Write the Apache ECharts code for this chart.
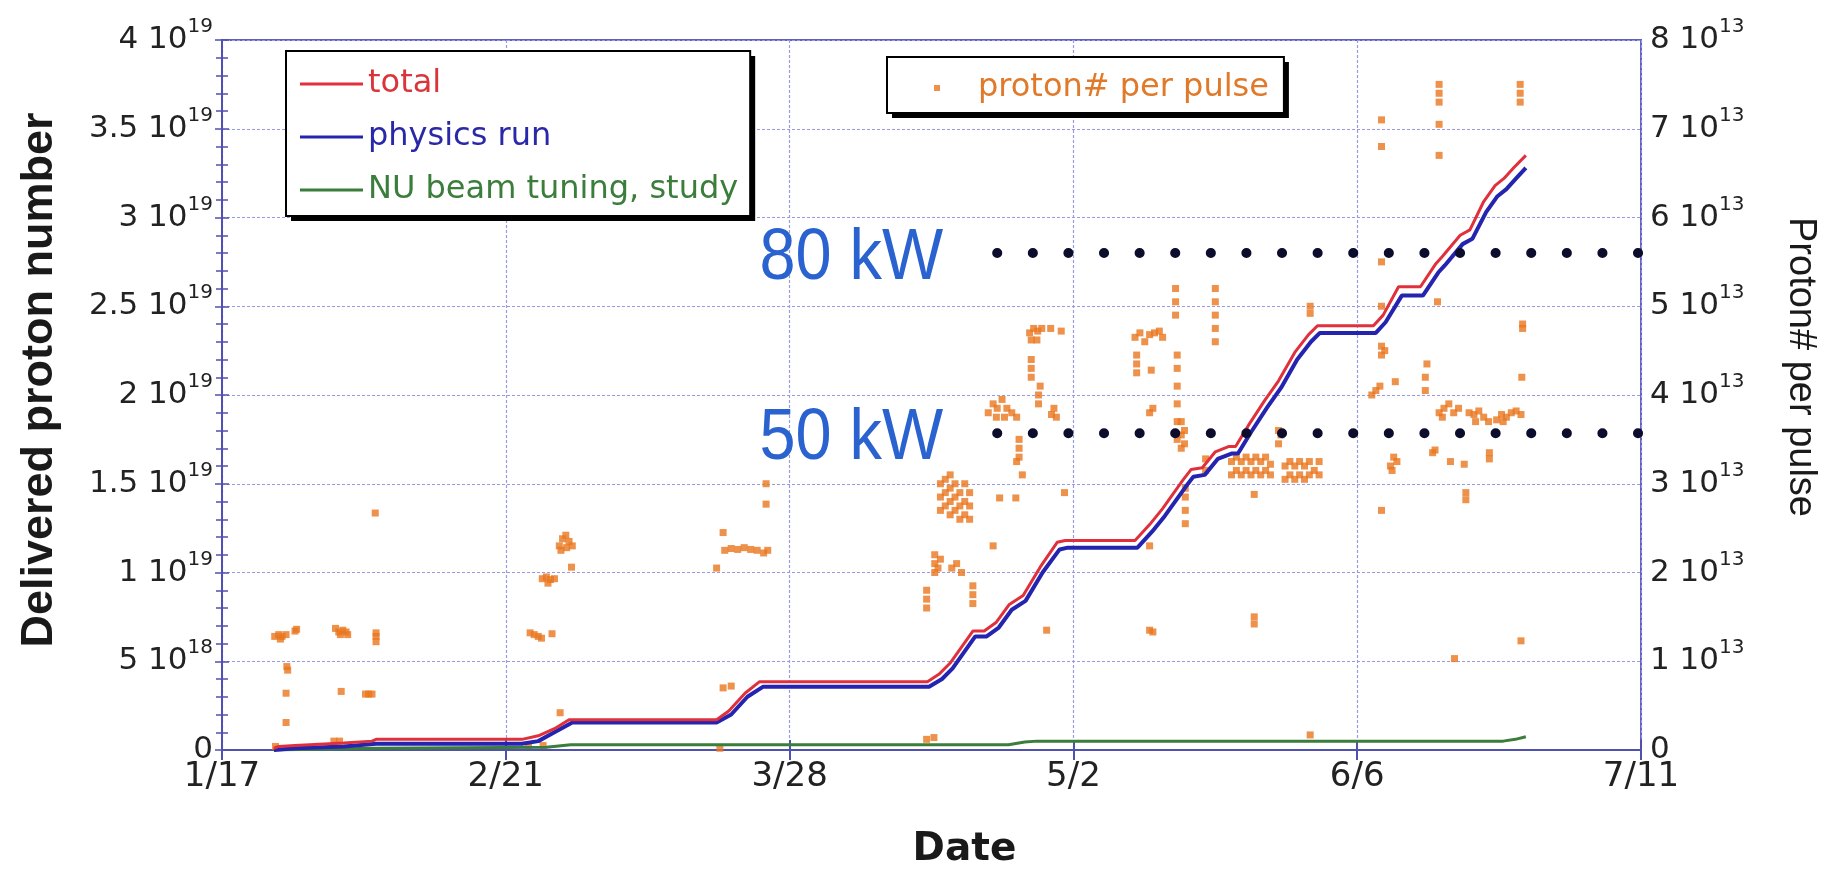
<!DOCTYPE html>
<html><head><meta charset="utf-8">
<script src="https://cdn.jsdelivr.net/npm/echarts@6/dist/echarts.min.js"></script>
<style>html,body{margin:0;padding:0;background:#fff;}#c{width:1841px;height:874px;}</style>
</head><body><div id="c"></div>
<script>
// x: days since 1/17 ; left values in units of 10^19 ; right values in units of 10^13
const xTickLabels = ['1/17', '2/21', '3/28', '5/2', '6/6', '7/11'];
const leftTickLabels = [['0', ''], ['5', '18'], ['1', '19'], ['1.5', '19'], ['2', '19'], ['2.5', '19'], ['3', '19'], ['3.5', '19'], ['4', '19']];
const rightTickLabels = [['0', ''], ['1', '13'], ['2', '13'], ['3', '13'], ['4', '13'], ['5', '13'], ['6', '13'], ['7', '13'], ['8', '13']];

const totalSeries = [[6.4,0.01],[7,0.02],[9,0.025],[15,0.04],[18.5,0.05],[19,0.06],[37,0.06],[39,0.08],[41,0.12],[42.8,0.17],[61,0.17],[62.5,0.22],[64.5,0.32],[66.3,0.385],[87,0.385],[88.5,0.43],[89.8,0.49],[92.6,0.67],[94,0.67],[95.5,0.72],[97.1,0.82],[98.8,0.87],[100.9,1.03],[103,1.17],[104,1.18],[112.6,1.18],[114.4,1.27],[116,1.36],[118.5,1.52],[119.5,1.58],[120.9,1.59],[122.5,1.68],[124.2,1.71],[125,1.71],[126.6,1.83],[128.6,1.97],[130.3,2.08],[132.3,2.24],[134,2.34],[135.1,2.39],[142,2.39],[143.2,2.45],[145.1,2.61],[147.8,2.61],[149.7,2.74],[150.5,2.78],[152.7,2.90],[153.9,2.93],[155.6,3.09],[157,3.18],[158.1,3.22],[159.3,3.28],[160.8,3.35]];
const physicsSeries = [[6.4,0.0],[9,0.01],[15,0.02],[19,0.035],[37,0.035],[39,0.05],[41,0.10],[43.2,0.155],[61,0.155],[62.8,0.2],[64.8,0.3],[66.7,0.356],[87.2,0.356],[88.8,0.40],[90.1,0.46],[92.9,0.64],[94.3,0.64],[95.8,0.69],[97.4,0.79],[99.1,0.84],[101.2,1.0],[103.3,1.13],[104.3,1.14],[112.9,1.14],[114.7,1.23],[116.3,1.32],[118.8,1.48],[119.8,1.54],[121.2,1.55],[122.8,1.64],[124.5,1.67],[125.3,1.67],[126.9,1.79],[128.9,1.93],[130.6,2.04],[132.6,2.20],[134.3,2.30],[135.4,2.35],[142.3,2.35],[143.5,2.41],[145.5,2.56],[148.1,2.56],[150,2.69],[150.8,2.73],[153,2.85],[154.2,2.88],[155.9,3.03],[157.3,3.12],[158.4,3.16],[159.6,3.22],[160.8,3.28]];
const tuningSeries = [[6.4,0.0],[19,0.01],[40,0.015],[43,0.03],[97,0.03],[99,0.045],[100.5,0.05],[158,0.05],[159.5,0.06],[160.8,0.075]];

const protonPerPulse = [
 [6.5,1.28],[7,1.30],[7.4,1.28],[7.9,1.30],[7.2,1.25],[9.0,1.34],[9.2,1.36],[8.0,0.94],[8.1,0.90],[7.9,0.64],[7.9,0.31],
 [14.0,1.37],[14.4,1.33],[14.9,1.35],[15.3,1.33],[14.6,1.30],[15.5,1.30],[14.7,0.66],[17.7,0.63],[18.1,0.63],[18.5,0.63],
 [19.0,1.22],[19.0,1.28],[19.0,1.32],[18.9,2.67],[13.8,0.1],[14.5,0.1],[6.6,0.04],
 [38.0,1.32],[38.5,1.30],[39.0,1.28],[39.4,1.26],[40.7,1.31],[39.5,1.93],[40.0,1.95],[40.5,1.92],[41.0,1.93],[40.2,1.88],
 [41.6,2.30],[42.0,2.38],[42.4,2.42],[42.8,2.35],[43.2,2.30],[41.8,2.25],[42.5,2.28],[43.1,2.06],[41.7,0.42],[37.8,0.05],[39.6,0.05],
 [61.0,2.05],[61.8,2.45],[62,2.25],[62.8,2.27],[63.6,2.26],[64.4,2.28],[65.2,2.26],[66,2.25],[66.8,2.22],[67.3,2.25],[67.1,2.77],[67.1,3.0],
 [61.8,0.7],[62.8,0.72],[61.4,0.02],
 [86.9,1.6],[86.9,1.7],[86.9,1.8],[86.9,0.12],[87.8,0.14],[87.9,2.0],[87.9,2.1],[87.9,2.2],[88.3,2.05],[88.6,2.15],
 [88.6,2.7],[88.6,2.85],[88.6,3.0],[89.2,2.75],[89.2,2.9],[89.2,3.05],[89.8,2.65],[89.8,2.8],[89.8,2.95],[89.8,3.1],[90.4,2.7],[90.4,2.85],[90.4,3.0],
 [91.0,2.6],[91.0,2.75],[91.0,2.9],[91.6,2.65],[91.6,2.8],[91.6,3.0],[92.2,2.6],[92.2,2.75],[92.2,2.9],
 [90,2.05],[90.6,2.1],[91.2,2.0],[92.6,1.65],[92.6,1.75],[92.6,1.85],[95.1,2.3],[95.9,2.84],[97.9,2.84],
 [94.5,3.8],[95.1,3.9],[95.6,3.85],[96.2,3.95],[96.8,3.85],[97.4,3.8],[98,3.75],[95.5,3.75],[96.5,3.75],
 [98.3,3.3],[98.3,3.4],[98.3,3.5],[98.0,3.25],[98.7,3.1],
 [99.6,4.7],[100.1,4.75],[100.6,4.72],[101.1,4.75],[102.2,4.75],[103.5,4.72],[99.8,4.62],[100.5,4.62],
 [99.8,4.2],[99.8,4.3],[99.8,4.4],[100.7,3.9],[100.7,4.0],[100.9,4.1],[102.3,3.78],[102.6,3.85],[102.9,3.75],[103.9,2.9],[101.7,1.35],
 [114.4,2.3],[114.4,1.35],[114.8,1.33],[112.6,4.65],[113.2,4.7],[113.8,4.6],[114.4,4.68],[115,4.7],[115.6,4.72],[116,4.65],
 [112.8,4.25],[112.8,4.35],[112.8,4.45],[114.6,4.28],[114.4,3.8],[114.8,3.85],
 [117.6,4.9],[117.6,5.05],[117.6,5.2],[117.8,3.5],[117.8,3.7],[117.8,3.9],[117.8,4.1],[117.8,4.3],[117.8,4.45],
 [118.3,3.4],[118.3,3.55],[118.3,3.7],[118.7,3.45],[118.7,3.6],[118.8,2.55],[118.8,2.7],[118.8,2.85],[118.8,2.95],
 [122.5,4.6],[122.5,4.75],[122.5,4.9],[122.5,5.05],[122.5,5.2],[121.3,3.15],[121.3,3.28],
 [124.5,3.1],[124.5,3.25],[125.1,3.15],[125.1,3.3],[125.7,3.1],[125.7,3.25],[126.3,3.15],[126.3,3.3],[126.9,3.1],[126.9,3.25],
 [127.5,3.15],[127.5,3.3],[128.1,3.1],[128.1,3.25],[128.7,3.15],[128.7,3.3],[129.3,3.1],[129.3,3.22],
 [127.3,2.88],[130.3,3.45],[130.3,3.6],[130.6,3.55],[127.3,1.42],[127.3,1.5],
 [131.1,3.05],[131.1,3.2],[131.7,3.1],[131.7,3.25],[132.3,3.05],[132.3,3.2],[132.9,3.1],[132.9,3.25],[133.5,3.05],[133.5,3.2],
 [134.1,3.1],[134.1,3.25],[134.7,3.15],[135.3,3.1],[135.3,3.25],[134.2,4.92],[134.2,5.0],[134.2,0.17],
 [141.8,4.0],[142.3,4.05],[142.8,4.1],[143.0,4.45],[143.0,4.55],[143.4,4.5],[144.7,4.15],[143.0,5.5],[143.0,7.1],[143.0,6.8],[143.0,5.0],[143.0,2.7],
 [144.1,3.2],[144.5,3.3],[144.9,3.25],[144.3,3.15],[148.4,4.05],[148.4,4.2],[148.6,4.35],[149.3,3.35],[149.6,3.38],
 [150.1,7.3],[150.1,7.4],[150.1,7.5],[150.1,7.05],[150.1,6.7],[149.9,5.05],
 [150.1,3.8],[150.7,3.85],[151.3,3.9],[151.9,3.8],[152.5,3.85],[150.5,3.75],[151.5,3.25],[153.2,3.22],[153.4,2.82],[153.4,2.9],
 [153.8,3.8],[154.4,3.78],[155,3.82],[155.6,3.75],[156.2,3.7],[154.6,3.7],[156.3,3.28],[156.3,3.35],
 [157.2,3.72],[157.8,3.78],[158.4,3.75],[159,3.8],[159.6,3.82],[160.2,3.78],[158,3.7],[152,1.03],
 [160.1,7.3],[160.1,7.4],[160.1,7.5],[160.4,4.75],[160.4,4.8],[160.3,4.2],[160.2,1.23]
];
const level80kW = [[95.6, 5.6], [175, 5.6]];
const level50kW = [[95.6, 3.57], [175, 3.57]];
const powerLabels = ['80 kW', '50 kW'];
const lineNames = ['total', 'physics run', 'NU beam tuning, study'];
const pulseName = 'proton# per pulse';

const AX = '#5050b0';
const LEG_FONT = 32;
const supRich = {
  m: { fontSize: 31, fontFamily: 'DejaVu Sans', color: '#222', lineHeight: 46 },
  e: { fontSize: 20, fontFamily: 'DejaVu Sans', color: '#222', lineHeight: 22, verticalAlign: 'top' }
};
function supFmt(arr, step) {
  return v => { const t = arr[Math.round(v / step)]; if (!t) return ''; return t[1] ? '{m|' + t[0] + ' 10}{e|' + t[1] + '}' : '{m|' + t[0] + '}'; };
}
const L1 = { left: 286, top: 51, pad: [15, 12, 8, 14], iw: 63, ih: 3, gap: 17, lh: 36 };
const L2 = { left: 887, top: 57, pad: [12, 15, 6, 47], iw: 6, ih: 6, lh: 38, tp: 33 };

const chart = echarts.init(document.getElementById('c'), null, { renderer: 'canvas' });
const option = {
  animation: false,
  backgroundColor: '#fff',
  grid: { left: 222, right: 200, top: 40, bottom: 120, show: true, borderColor: '#6060c0', borderWidth: 2, backgroundColor: 'transparent' },
  legend: [
    { left: L1.left, top: L1.top, orient: 'vertical', selectedMode: false, icon: 'rect', itemWidth: L1.iw, itemHeight: L1.ih, itemGap: L1.gap,
      padding: L1.pad, backgroundColor: '#fff', borderColor: '#000', borderWidth: 2, z: 8,
      textStyle: { fontFamily: 'DejaVu Sans', fontSize: LEG_FONT, lineHeight: L1.lh },
      data: [ { name: lineNames[0], textStyle: { color: '#d9353a' } },
              { name: lineNames[1], textStyle: { color: '#2828a8' } },
              { name: lineNames[2], textStyle: { color: '#3b7d3b' } } ] },
    { left: L2.left, top: L2.top, orient: 'horizontal', selectedMode: false, icon: 'rect', itemWidth: L2.iw, itemHeight: L2.ih,
      padding: L2.pad, backgroundColor: '#fff', borderColor: '#000', borderWidth: 2, z: 8,
      textStyle: { fontFamily: 'DejaVu Sans', fontSize: LEG_FONT, lineHeight: L2.lh, color: '#e07a2a', padding: [0, 0, 0, L2.tp] },
      data: [pulseName] }
  ],
  xAxis: [
    { type: 'value', min: 0, max: 175, interval: 35, position: 'bottom',
      name: 'Date', nameLocation: 'middle', nameGap: 80,
      nameTextStyle: { fontFamily: 'DejaVu Sans', fontWeight: 'bold', fontSize: 39, color: '#1a1a1a', padding: [0, 0, 0, 66] },
      axisLine: { show: true, lineStyle: { color: AX, width: 2 } },
      axisTick: { show: true, inside: true, length: 10, lineStyle: { color: AX, width: 2 } },
      axisLabel: { fontFamily: 'DejaVu Sans', fontSize: 34, color: '#222', margin: 10, showMinLabel: true, showMaxLabel: true,
                   formatter: v => xTickLabels[Math.round(v / 35)] || '' },
      splitLine: { show: true, lineStyle: { color: '#9a9ae2', width: 1.2, type: [3, 2] } } },
    { type: 'value', min: 0, max: 175, interval: 35, position: 'top',
      axisLine: { show: true, lineStyle: { color: AX, width: 2 } },
      axisTick: { show: true, inside: true, length: 10, lineStyle: { color: AX, width: 2 } },
      axisLabel: { show: false }, splitLine: { show: false } }
  ],
  yAxis: [
    { type: 'value', min: 0, max: 4, interval: 0.5, position: 'left',
      name: 'Delivered proton number', nameLocation: 'middle', nameRotate: 90, nameGap: 160,
      nameTextStyle: { fontFamily: 'Liberation Sans', fontWeight: 'bold', fontSize: 45, color: '#1a1a1a', padding: [0, 0, 0, 30] },
      axisLine: { show: true, lineStyle: { color: AX, width: 2 } },
      axisTick: { show: true, inside: true, length: 7, lineStyle: { color: AX, width: 1.5 } },
      minorTick: { show: true, splitNumber: 5, length: 6, lineStyle: { color: AX, width: 1.5 } },
      axisLabel: { margin: 9, formatter: supFmt(leftTickLabels, 0.5), rich: supRich },
      splitLine: { show: true, lineStyle: { color: '#9a9ae2', width: 1.2, type: [3, 2] } } },
    { type: 'value', min: 0, max: 8, interval: 1, position: 'right',
      name: 'Proton# per pulse', nameLocation: 'middle', nameRotate: -90, nameGap: 140,
      nameTextStyle: { fontFamily: 'Liberation Sans', fontSize: 38, color: '#1a1a1a', padding: [0, 56, 0, 0] },
      axisLine: { show: true, lineStyle: { color: AX, width: 2 } },
      axisTick: { show: true, inside: true, length: 7, lineStyle: { color: AX, width: 1.5 } },
      minorTick: { show: true, splitNumber: 5, length: 6, lineStyle: { color: AX, width: 1.5 } },
      axisLabel: { margin: 9, formatter: supFmt(rightTickLabels, 1), rich: supRich },
      splitLine: { show: false } }
  ],
  series: [
    { name: pulseName, type: 'scatter', xAxisIndex: 0, yAxisIndex: 1, symbol: 'rect', symbolSize: 7,
      itemStyle: { color: '#e8761e' }, data: protonPerPulse, z: 2 },
    { name: lineNames[2], type: 'line', xAxisIndex: 0, yAxisIndex: 0, symbol: 'none', showSymbol: false,
      lineStyle: { color: '#3b7d3b', width: 3 }, itemStyle: { color: '#3b7d3b' }, data: tuningSeries, z: 3 },
    { name: lineNames[1], type: 'line', xAxisIndex: 0, yAxisIndex: 0, symbol: 'none', showSymbol: false,
      lineStyle: { color: '#2424b0', width: 4 }, itemStyle: { color: '#2424b0' }, data: physicsSeries, z: 4 },
    { name: lineNames[0], type: 'line', xAxisIndex: 0, yAxisIndex: 0, symbol: 'none', showSymbol: false,
      lineStyle: { color: '#e0303c', width: 3 }, itemStyle: { color: '#e0303c' }, data: totalSeries, z: 5 },
    { name: 'lvl80', type: 'line', xAxisIndex: 0, yAxisIndex: 1, symbol: 'none', clip: false, silent: true,
      lineStyle: { color: '#0c0c2c', width: 10, type: [0.1, 35.5], cap: 'round' }, data: level80kW, z: 6 },
    { name: 'lvl50', type: 'line', xAxisIndex: 0, yAxisIndex: 1, symbol: 'none', clip: false, silent: true,
      lineStyle: { color: '#0c0c2c', width: 10, type: [0.1, 35.5], cap: 'round' }, data: level50kW, z: 6 }
  ]
};
chart.setOption(option);

// legend drop shadows (legend box size measured from its text)
const mctx = document.createElement('canvas').getContext('2d');
mctx.font = LEG_FONT + 'px "DejaVu Sans"';
const w1 = L1.pad[3] + L1.iw + 5 + Math.max(...lineNames.map(n => mctx.measureText(n).width)) + L1.pad[1];
const h1 = L1.pad[0] + 3 * L1.lh + 2 * L1.gap + L1.pad[2];
const w2 = L2.pad[3] + L2.iw + 5 + L2.tp + mctx.measureText(pulseName).width + L2.pad[1];
const h2 = L2.pad[0] + L2.lh + L2.pad[2];
function shadowRect(x, y, w, h) {
  return { type: 'rect', z: 7, silent: true, shape: { x: x + 5, y: y + 5, width: w, height: h }, style: { fill: '#000' } };
}
const p80 = chart.convertToPixel({ xAxisIndex: 0, yAxisIndex: 1 }, level80kW[0]);
const p50 = chart.convertToPixel({ xAxisIndex: 0, yAxisIndex: 1 }, level50kW[0]);
function kwText(p, txt) {
  return { type: 'text', x: p[0] - 54, y: p[1] + 6, scaleX: 0.9, z: 10,
    style: { text: txt, fontSize: 72, fontFamily: 'Liberation Sans', fill: '#2a63cf',
             textAlign: 'right', textVerticalAlign: 'middle', align: 'right', verticalAlign: 'middle' } };
}
chart.setOption({ graphic: [shadowRect(L1.left, L1.top, w1, h1), shadowRect(L2.left, L2.top, w2, h2),
                            kwText(p80, powerLabels[0]), kwText(p50, powerLabels[1])] });
</script></body></html>
